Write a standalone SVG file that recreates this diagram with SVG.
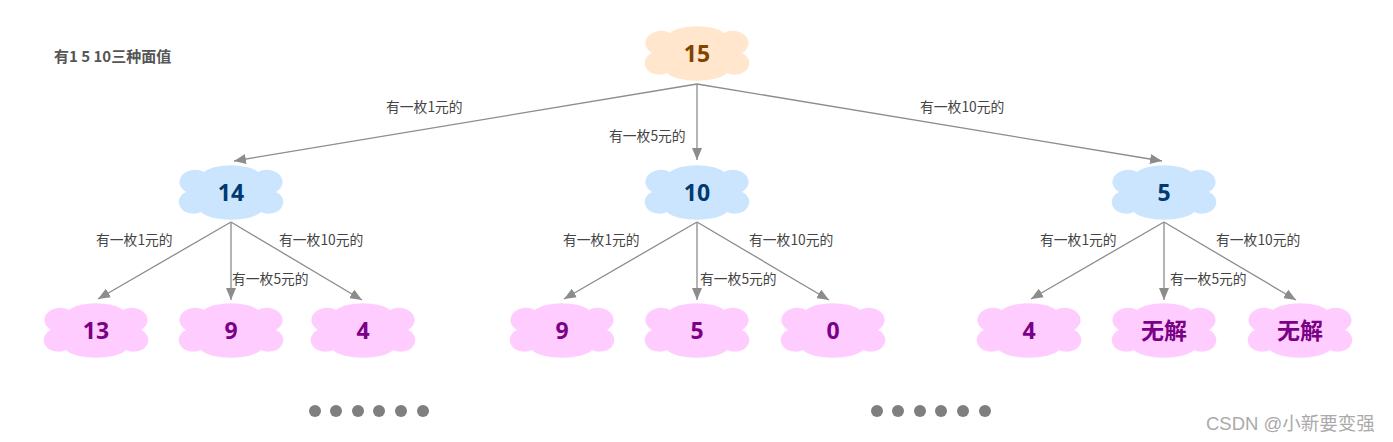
<svg xmlns="http://www.w3.org/2000/svg" width="1393" height="442" viewBox="0 0 1393 442">
<style>
.num{font-family:"Noto Sans","Noto Sans CJK SC",sans-serif;font-weight:bold;font-size:23px;text-anchor:middle;dominant-baseline:central}
.r .num{fill:#7f4400}.m .num{fill:#003a70}.l .num{fill:#7a0085}
.lbl{font-family:"Noto Sans CJK SC","Noto Sans",sans-serif;font-size:13.8px;fill:#444;dominant-baseline:central}
.e{stroke:#8c8c8c;stroke-width:1.3;fill:none;marker-end:url(#ah)}
.dot{fill:#7f7f7f}
</style>
<defs>
<path id="cloud" d="M-27,-20 A30 12 0 0 1 27,-20 A14 11 0 0 1 45,0 A14 11 0 0 1 30,20 A32 12 0 0 1 -30,20 A14 11 0 0 1 -45,0 A14 11 0 0 1 -27,-20 Z"/>
<marker id="ah" viewBox="0 0 12 10" refX="12" refY="5" markerWidth="12" markerHeight="10" markerUnits="userSpaceOnUse" orient="auto"><path d="M0,0 L12,5 L0,10 Z" fill="#8c8c8c"/></marker>
</defs>
<text x="54" y="55" font-family="Noto Sans CJK SC, Noto Sans, sans-serif" font-size="15" font-weight="bold" fill="#555" dominant-baseline="central">有1 5 10三种面值</text>
<g id="connectors">
<path class="e" d="M697,84 L234,161"/>
<path class="e" d="M697,84 L697,160"/>
<path class="e" d="M697,84 L1162,161"/>
<path class="e" d="M231,222 L98,299"/>
<path class="e" d="M231,222 L231,300"/>
<path class="e" d="M231,222 L362,300"/>
<path class="e" d="M697,222 L564,299"/>
<path class="e" d="M697,222 L697,300"/>
<path class="e" d="M697,222 L829,300"/>
<path class="e" d="M1164,222 L1031,299"/>
<path class="e" d="M1164,222 L1164,300"/>
<path class="e" d="M1164,222 L1296,300"/>
</g>
<g id="labels">
<text class="lbl" x="386" y="106">有一枚1元的</text>
<text class="lbl" x="609" y="135">有一枚5元的</text>
<text class="lbl" x="920" y="106">有一枚10元的</text>
<text class="lbl" x="96" y="239">有一枚1元的</text>
<text class="lbl" x="232" y="278">有一枚5元的</text>
<text class="lbl" x="279" y="239">有一枚10元的</text>
<text class="lbl" x="563" y="239">有一枚1元的</text>
<text class="lbl" x="700" y="278">有一枚5元的</text>
<text class="lbl" x="749" y="239">有一枚10元的</text>
<text class="lbl" x="1040" y="239">有一枚1元的</text>
<text class="lbl" x="1170" y="278">有一枚5元的</text>
<text class="lbl" x="1216" y="239">有一枚10元的</text>
</g>
<g id="n15" class="r" transform="translate(697,53)"><use href="#cloud" fill="#ffe6cc"/><text class="num" x="0" y="0">15</text></g>
<g id="n14" class="m" transform="translate(231,192)"><use href="#cloud" fill="#cce5ff"/><text class="num" x="0" y="0">14</text></g>
<g id="n10" class="m" transform="translate(697,192)"><use href="#cloud" fill="#cce5ff"/><text class="num" x="0" y="0">10</text></g>
<g id="n5" class="m" transform="translate(1164,192)"><use href="#cloud" fill="#cce5ff"/><text class="num" x="0" y="0">5</text></g>
<g id="n13" class="l" transform="translate(96,330)"><use href="#cloud" fill="#ffccff"/><text class="num" x="0" y="0">13</text></g>
<g id="n9a" class="l" transform="translate(231,330)"><use href="#cloud" fill="#ffccff"/><text class="num" x="0" y="0">9</text></g>
<g id="n4a" class="l" transform="translate(363,330)"><use href="#cloud" fill="#ffccff"/><text class="num" x="0" y="0">4</text></g>
<g id="n9b" class="l" transform="translate(562,330)"><use href="#cloud" fill="#ffccff"/><text class="num" x="0" y="0">9</text></g>
<g id="n5b" class="l" transform="translate(697,330)"><use href="#cloud" fill="#ffccff"/><text class="num" x="0" y="0">5</text></g>
<g id="n0" class="l" transform="translate(833,330)"><use href="#cloud" fill="#ffccff"/><text class="num" x="0" y="0">0</text></g>
<g id="n4b" class="l" transform="translate(1029,330)"><use href="#cloud" fill="#ffccff"/><text class="num" x="0" y="0">4</text></g>
<g id="nx1" class="l" transform="translate(1164,330)"><use href="#cloud" fill="#ffccff"/><text class="num" x="0" y="0" font-size="20" font-family="Noto Sans CJK SC, sans-serif">无解</text></g>
<g id="nx2" class="l" transform="translate(1300,330)"><use href="#cloud" fill="#ffccff"/><text class="num" x="0" y="0" font-size="20" font-family="Noto Sans CJK SC, sans-serif">无解</text></g>
<g id="dots">
<circle class="dot" cx="315" cy="411" r="6"/><circle class="dot" cx="336" cy="411" r="6"/><circle class="dot" cx="358" cy="411" r="6"/><circle class="dot" cx="379" cy="411" r="6"/><circle class="dot" cx="401" cy="411" r="6"/><circle class="dot" cx="423" cy="411" r="6"/>
<circle class="dot" cx="877" cy="411" r="6"/><circle class="dot" cx="898" cy="411" r="6"/><circle class="dot" cx="920" cy="411" r="6"/><circle class="dot" cx="941" cy="411" r="6"/><circle class="dot" cx="963" cy="411" r="6"/><circle class="dot" cx="985" cy="411" r="6"/>
</g>
<text x="1206" y="423" font-family="Liberation Sans, Noto Sans CJK SC, sans-serif" font-size="18.5" fill="#aaa" dominant-baseline="central">CSDN @小新要变强</text>
</svg>
